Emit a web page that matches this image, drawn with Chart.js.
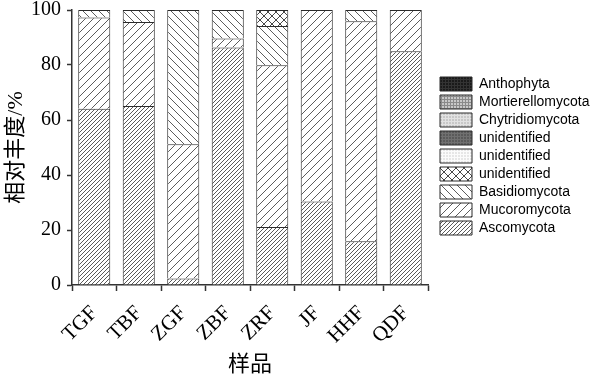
<!DOCTYPE html>
<html>
<head>
<meta charset="utf-8">
<script src="https://cdn.jsdelivr.net/npm/chart.js@4/dist/chart.umd.min.js"></script>
<style>
  html, body { margin: 0; padding: 0; background: #fff; }
  #wrap { width: 595px; height: 378px; }
</style>
</head>
<body>
<div id="wrap"><canvas id="c" width="595" height="378"></canvas></div>
<script>
const categories = ['TGF', 'TBF', 'ZGF', 'ZBF', 'ZRF', 'JF', 'HHF', 'QDF'];
const ascomycota = [64.1, 65.1, 2.4, 86.4, 21.1, 30.4, 15.9, 85.0];
const mucoromycota = [33.2, 30.5, 48.8, 3.2, 58.8, 69.6, 80.0, 15.0];
const basidiomycota = [2.7, 4.4, 48.8, 10.4, 14.3, 0, 4.1, 0];
const unidentifiedCross = [0, 0, 0, 0, 5.8, 0, 0, 0];
const unidentifiedLight = [0, 0, 0, 0, 0, 0, 0, 0];
const unidentifiedDark = [0, 0, 0, 0, 0, 0, 0, 0];
const chytridiomycota = [0, 0, 0, 0, 0, 0, 0, 0];
const mortierellomycota = [0, 0, 0, 0, 0, 0, 0, 0];
const anthophyta = [0, 0, 0, 0, 0, 0, 0, 0];
const yTicks = [0, 20, 40, 60, 80, 100];

function makePattern(size, bg, draw) {
  const c = document.createElement('canvas');
  c.width = size; c.height = size;
  const g = c.getContext('2d');
  g.fillStyle = bg; g.fillRect(0, 0, size, size);
  draw(g, size);
  return g.createPattern(c, 'repeat');
}
function fwd(color, w) {
  return (g, s) => {
    g.strokeStyle = color; g.lineWidth = w; g.beginPath();
    g.moveTo(-1, s + 1); g.lineTo(s + 1, -1);
    g.moveTo(-1, 1); g.lineTo(1, -1);
    g.moveTo(s - 1, s + 1); g.lineTo(s + 1, s - 1);
    g.stroke();
  };
}
function back(color, w) {
  return (g, s) => {
    g.strokeStyle = color; g.lineWidth = w; g.beginPath();
    g.moveTo(-1, -1); g.lineTo(s + 1, s + 1);
    g.moveTo(s - 1, -1); g.lineTo(s + 1, 1);
    g.moveTo(-1, s - 1); g.lineTo(1, s + 1);
    g.stroke();
  };
}
function both(color, w) {
  const a = fwd(color, w), b = back(color, w);
  return (g, s) => { a(g, s); b(g, s); };
}
function dots(color, step) {
  return (g, s) => {
    g.fillStyle = color;
    for (let x = 0; x < s; x += step) for (let y = 0; y < s; y += step) g.fillRect(x, y, 1, 1);
  };
}
function grid(color) {
  return (g, s) => {
    g.fillStyle = color;
    g.fillRect(0, 0, s, 1); g.fillRect(0, 0, 1, s);
  };
}

const pAsco = makePattern(4, '#ffffff', fwd('#5a5a5a', 1));
const pMuco = makePattern(8, '#ffffff', fwd('#4a4a4a', 0.9));
const pBasi = makePattern(8, '#ffffff', back('#4a4a4a', 0.9));
const pCross = makePattern(8, '#ffffff', both('#333333', 0.9));
const pLight = makePattern(3, '#fbfbfb', dots('#e6e6e6', 2));
const pDark = makePattern(3, '#707070', dots('#5a5a5a', 2));
const pChyt = makePattern(3, '#e2e2e2', dots('#c8c8c8', 2));
const pMort = makePattern(3, '#c8c8c8', grid('#8a8a8a'));
const pAnth = makePattern(3, '#333333', dots('#1a1a1a', 2));

const border = '#2a2a2a';
function ds(label, data, bg) {
  return {
    label,
    data: data.map(v => (v === 0 ? null : v)),
    backgroundColor: bg, borderColor: border, borderWidth: 1, borderSkipped: 'start'
  };
}

const serif = "'Liberation Serif', 'Times New Roman', 'Noto Sans CJK SC', serif";

const legendPlacer = {
  id: 'legendPlacer',
  afterLayout(chart) {
    const l = chart.legend;
    if (!l) return;
    l.left = 436; l.right = 595; l.width = 159;
    l.top = 73; l.bottom = 378; l.height = 305;
  }
};

new Chart(document.getElementById('c'), {
  type: 'bar',
  data: {
    labels: categories,
    datasets: [
      ds('Ascomycota', ascomycota, pAsco),
      ds('Mucoromycota', mucoromycota, pMuco),
      ds('Basidiomycota', basidiomycota, pBasi),
      ds('unidentified', unidentifiedCross, pCross),
      ds('unidentified', unidentifiedLight, pLight),
      ds('unidentified', unidentifiedDark, pDark),
      ds('Chytridiomycota', chytridiomycota, pChyt),
      ds('Mortierellomycota', mortierellomycota, pMort),
      ds('Anthophyta', anthophyta, pAnth)
    ]
  },
  plugins: [legendPlacer],
  options: {
    responsive: false,
    animation: false,
    devicePixelRatio: 1,
    layout: { padding: { top: 10, right: 27, bottom: 0, left: 0 } },
    datasets: { bar: { barPercentage: 0.72, categoryPercentage: 1.0 } },
    plugins: {
      tooltip: { enabled: false },
      legend: {
        position: 'right',
        align: 'start',
        reverse: true,
        maxWidth: 140,
        labels: {
          boxWidth: 32, boxHeight: 14, padding: 4,
          color: '#000',
          font: { family: "'Liberation Sans', Arial, sans-serif", size: 14 }
        }
      }
    },
    scales: {
      x: {
        stacked: true,
        afterFit(scale) { scale.height = 93; },
        grid: { display: true, drawOnChartArea: false, drawTicks: true, tickLength: 6, color: '#333', tickWidth: 1.5 },
        border: { display: true, color: '#333', width: 1.5 },
        ticks: { color: '#000', font: { family: serif, size: 21 }, minRotation: 45, maxRotation: 45, padding: 10 },
        title: { display: true, text: '样品', color: '#000', font: { family: serif, size: 22 }, padding: { top: 0, bottom: 0 } }
      },
      y: {
        stacked: true,
        min: 0, max: 100,
        afterFit(scale) { scale.width = 72; scale.paddingTop = 0; },
        afterBuildTicks(scale) { scale.ticks = yTicks.map(v => ({ value: v })); },
        grid: { display: true, drawOnChartArea: false, drawTicks: true, tickLength: 5, color: '#333', tickWidth: 1.5 },
        border: { display: true, color: '#333', width: 1.5 },
        ticks: { color: '#000', font: { family: serif, size: 20 }, padding: 6 },
        title: { display: true, text: '相对丰度/%', color: '#000', font: { family: serif, size: 22 }, padding: { top: 3, bottom: 4 } }
      }
    }
  }
});
</script>
</body>
</html>
